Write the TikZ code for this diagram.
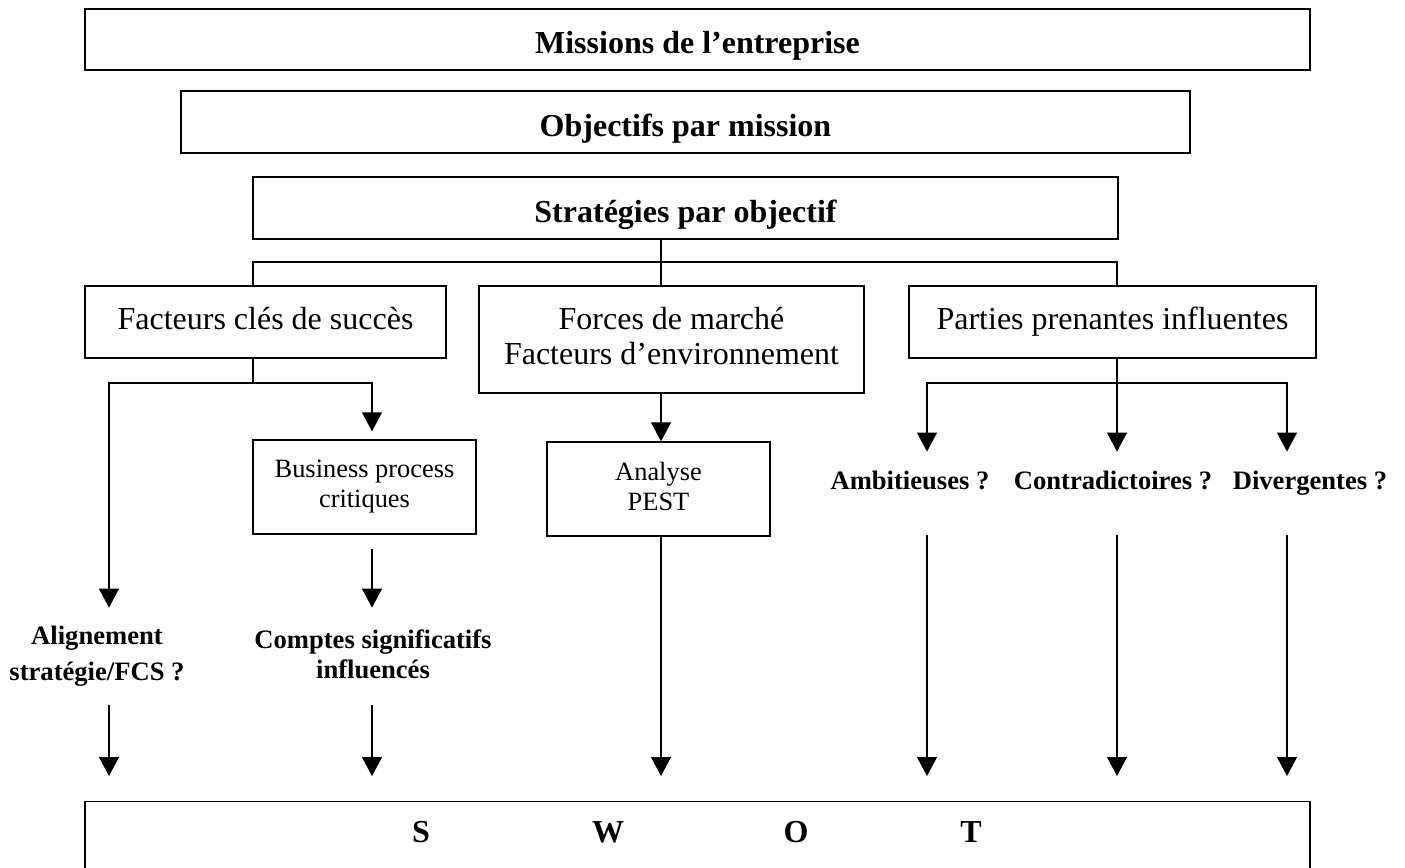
\documentclass[tikz,border=0pt]{standalone}
\usepackage{fontspec}
\setmainfont{Liberation Serif}
\usetikzlibrary{arrows.meta}

\begin{document}
\begin{tikzpicture}[x=0.5pt, y=-0.5pt,
	box/.style={draw, line width=0.7pt, inner sep=0pt, align=center},
	headbox/.style={box, minimum height=31pt, text height=16pt, text depth=2pt, font=\fontsize{16}{19}\selectfont\bfseries},
	factor/.style={box, font=\fontsize{16}{17.5}\selectfont},
	smallbox/.style={box, minimum width=111.5pt, minimum height=47pt, font=\fontsize{13.2}{15}\selectfont},
	question/.style={inner sep=0pt, anchor=base, text height=18.5pt, text depth=23pt, font=\fontsize{13.3}{15}\selectfont\bfseries},
	outcome/.style={inner sep=0pt, align=center, minimum height=48.5pt},
	swotletter/.style={font=\fontsize{16}{18}\selectfont\bfseries},
	link/.style={line width=0.6pt},
	arr/.style={link, -{Triangle[width=10pt, length=9.5pt]}},
	into/.style={arr, shorten >=12.5pt}]
	\useasboundingbox (0,0) rectangle (1405,868);
	\clip (0,0) rectangle (1405,868);

	% top of the cascade
	\node[headbox, minimum width=612.5pt, minimum height=30.5pt] (mission) at (697.5,39.5) {Missions de l’entreprise};
	\node[headbox, minimum width=504.5pt] (objectif) at (685.5,122) {Objectifs par mission};
	\node[headbox, minimum width=432.5pt] (strat) at (685.5,208) {Stratégies par objectif};

	\node[factor, minimum width=180.5pt, minimum height=36pt] (fcs) at (265.5,322) {Facteurs clés de succès\vphantom{p}};
	\node[factor, minimum width=192.5pt, minimum height=53.5pt] (forces) at (671.5,339.5) {Forces de marché\\Facteurs d’environnement\vphantom{p}};
	\node[factor, minimum width=203.5pt, minimum height=36pt] (parties) at (1112.5,322) {Parties prenantes influentes};

	\node[smallbox] (bp) at (364.5,487) {Business process\\critiques};
	\node[smallbox] (pest) at (658.5,489) {Analyse\\PEST\vphantom{q}};

	\node[question] (amb) at (910,489) {Ambitieuses ?};
	\node[question] (contra) at (1113,489) {Contradictoires ?};
	\node[question] (diverg) at (1310,489) {Divergentes ?};

	\node[outcome, font=\fontsize{13.3}{18}\selectfont\bfseries] (align) at (97,656.5) {Alignement\\stratégie/FCS ?};
	\node[outcome, font=\fontsize{13.3}{15}\selectfont\bfseries] (comptes) at (373,656.5) {Comptes significatifs\\influencés\vphantom{p}};

	% SWOT box, cut by the page edge
	\node[box, minimum width=612.5pt, minimum height=50pt, anchor=north] (swot) at (697.5,801) {};
	\node[swotletter] (s) at (421,832) {S};
	\node[swotletter] (w) at (608,832) {W};
	\node[swotletter] (o) at (796,832) {O};
	\node[swotletter] (t) at (971,832) {T};

	\coordinate (c1) at (109,383);
	\coordinate (c2) at (372,383);
	\coordinate (c3) at (661,262);
	\coordinate (c4) at (927,383);
	\coordinate (c5) at (1287,383);
	\coordinate (fcsj) at (253,383);
	\coordinate (ppj) at (1117,383);

	\draw[link] (strat.south -| c3) -- (forces.north -| c3);
	\draw[link] (fcs.north -| fcsj) |- (c3) -| (parties.north -| ppj);

	% key success factors
	\draw[arr] (fcs.south -| fcsj) |- (c1) -- (align.north -| c1);
	\draw[arr, shorten >=4pt] (fcsj) -| (bp.north -| c2);
	\draw[arr, shorten <=7pt] (bp.south -| c2) -- (comptes.north -| c2);
	\draw[into] (align.south -| c1) -- (swot.north -| c1);
	\draw[into] (comptes.south -| c2) -- (swot.north -| c2);

	% market forces
	\draw[arr] (forces.south -| c3) -- (pest.north -| c3);
	\draw[into] (pest.south -| c3) -- (swot.north -| c3);

	% stakeholders
	\draw[link] (parties.south -| ppj) -- (ppj);
	\draw[arr] (ppj) -| (amb.north -| c4);
	\draw[arr] (ppj) -- (contra.north -| ppj);
	\draw[arr] (ppj) -| (diverg.north -| c5);
	\draw[into] (amb.south -| c4) -- (swot.north -| c4);
	\draw[into] (contra.south -| ppj) -- (swot.north -| ppj);
	\draw[into] (diverg.south -| c5) -- (swot.north -| c5);
\end{tikzpicture}
\end{document}
